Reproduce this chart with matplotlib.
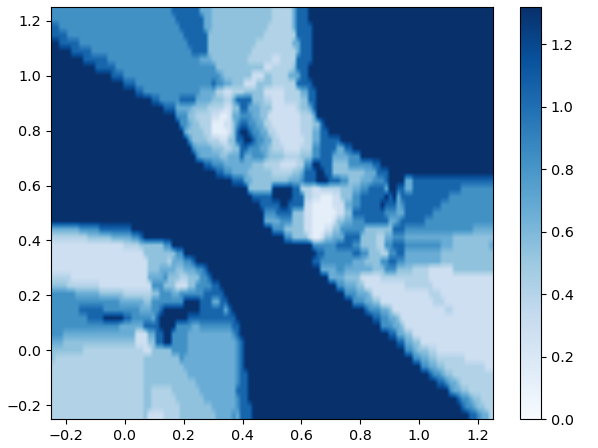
import numpy as np
import matplotlib
matplotlib.use('Agg')
import matplotlib.pyplot as plt

# value of each shade
levels = {'N': 1.32, 'B': 1.05, 'M': 0.83, 'L': 0.67, 'S': 0.54, 'P': 0.41, 'C': 0.28, 'W': 0.12}

# heatmap rows from top to bottom, run length coded: shade + last column of the run
n_cols = 110
rows = [
    "M30 B37 L40 S55 P60 L61 B64 N110",
    "M31 B38 L40 S55 P60 L61 B64 N110",
    "B2 M32 B38 L40 S54 P60 L61 B65 N110",
    "B4 M33 B39 S53 P61 B65 N110",
    "N2 B7 M34 B39 S51 P60 L62 B65 N110",
    "N5 B10 M35 B39 S50 P61 L62 B65 N110",
    "N8 B14 M37 L40 S49 P55 C57 P61 B65 N110",
    "N11 B16 M41 S53 C55 P60 S61 B64 N110",
    "N15 B18 M42 L43 S50 C53 S55 P59 L62 B64 N110",
    "N18 B21 M40 B41 M43 L45 S48 C51 S55 P61 B65 N110",
    "N21 B23 M37 L41 P43 C45 P48 S53 C58 P62 L64 B66 N110",
    "N25 B27 M32 B36 L40 S43 P45 L46 B50 S53 P55 C58 P62 S64 B66 N110",
    "N28 B31 L35 S39 P43 C45 S47 B49 L52 S55 C61 P62 S64 L65 B66 N110",
    "N31 M34 S36 P40 C42 W44 C45 L47 M50 L52 S54 C62 P65 L66 N110",
    "N32 M34 L35 S37 P40 W43 C45 S46 M47 B49 M51 L53 P55 C62 P65 S67 B68 N110",
    "N33 L34 S38 P40 W44 C45 S46 B47 N49 B50 M52 L54 P56 C62 P65 L67 B69 N110",
    "N34 M35 S39 P42 C44 S46 B48 N50 B51 M53 L55 P57 C63 P65 L67 B72 N110",
    "N35 M36 L40 S43 P45 S47 B49 M52 L54 S55 P58 C62 P65 M67 B71 L73 B75 N110",
    "N36 M37 L42 S44 L47 B48 L50 M53 L54 S58 P62 S65 M67 B70 L74 M77 N110",
    "N38 B40 M43 L50 S53 P57 C61 P63 M65 N67 B70 S74 M80 B82 N110",
    "N41 B43 M45 L49 S55 P60 S62 L63 B66 N68 B70 S78 L81 B84 N110",
    "N45 B48 L50 S59 L62 M63 B66 N69 B72 M74 S77 L80 M83 B84 N88 L90 B110",
    "N49 S55 N60 B62 P65 C67 P72 S75 L77 M79 B83 L84 N86 B88 L90 B102 M110",
    "N50 B55 N60 B63 P65 C67 W70 C72 S75 M77 B83 N84 B85 N86 L87 B99 M110",
    "N52 B57 N59 B63 C65 W70 C73 L75 M77 B82 N83 B86 L87 M88 B97 M110",
    "N53 M56 B60 S63 C65 W71 C73 S75 B83 M86 L88 B95 M110",
    "N53 L57 M60 S63 C65 W70 C71 S73 L75 M78 B84 L86 M87 B93 M110",
    "L7 M12 B20 N55 M58 S63 C65 W68 C70 S72 M78 S85 B88 M105 L110",
    "P9 S15 L20 M22 B23 N58 M60 S64 C65 W67 C68 S70 L73 B77 S81 P83 L85 M88 L100 S110",
    "C18 P22 S28 M30 N65 M71 B75 M77 S81 P83 M85 B88 M97 L100 S109 L110",
    "C23 S31 M33 N66 B68 M75 B77 M79 S82 P84 M86 B88 L97 S110",
    "C24 S29 P30 L33 M35 B36 N65 B67 M75 L78 S82 M84 B86 M88 L97 S110",
    "C24 S27 L31 S33 L36 M38 B39 N67 L71 M73 L80 S83 M86 S90 P94 C100 S110",
    "P5 C24 L28 M29 S32 P34 S37 M39 B40 N69 L73 S77 C82 P94 C110",
    "S4 P12 C25 M28 S31 C34 S36 M40 B42 N71 M73 L76 S78 C88 P95 C110",
    "M6 L12 S18 P25 S27 M30 L32 M38 B43 N73 M76 L79 S80 C94 P97 C110",
    "M17 L23 S25 M33 N37 B40 L42 B44 N75 M78 L80 S82 C95 P98 C110",
    "M7 B13 M22 L25 M27 B28 N37 B43 L44 B45 N78 B79 M82 L84 S85 C98 P100 C110",
    "M9 B13 N18 B20 M25 L26 B27 N34 B46 N80 B82 M84 L86 S87 C110",
    "M17 L23 B27 N31 M35 L37 M45 B47 N82 M85 L87 S88 C110",
    "M3 L21 C24 L26 B28 N30 M34 L45 M46 B47 N84 B86 L88 S90 C110",
    "L3 S21 C24 S26 B28 N30 M34 L46 M47 B48 N86 B88 L90 S92 C110",
    "S8 P23 C25 S30 M34 L46 M47 B48 N88 M90 L91 S94 P96 C110",
    "S1 P23 S32 M33 L46 M47 B48 N90 M92 L94 S96 P103 C110",
    "P23 S33 L46 M47 B48 N92 M94 L96 S98 P108 C110",
    "P23 S34 L46 M47 B49 N94 B95 M97 L98 S100 P110",
    "P23 S36 L46 M47 B49 N96 B98 M99 L101 S102 P110",
    "P23 S25 P30 S37 L46 B49 N99 M100 L102 S104 P110",
    "P23 S25 P31 S38 L46 M47 B49 N101 B102 M104 L105 S107 P110",
    "P23 S25 P32 S40 L46 M47 B50 N102 B103 M105 L106 S108 P110",
    "P23 S24 C28 P32 S41 L45 M46 L47 B50 N104 B106 M107 L109 P110",
]

x_ticks = [-0.2, 0.0, 0.2, 0.4, 0.6, 0.8, 1.0, 1.2]
y_ticks = [-0.2, 0.0, 0.2, 0.4, 0.6, 0.8, 1.0, 1.2]
cbar_ticks = [0.0, 0.2, 0.4, 0.6, 0.8, 1.0, 1.2]


def decode(row):
    out = np.zeros(n_cols)
    start = 0
    for run in row.split():
        end = int(run[1:])
        if end > start:
            out[start:end] = levels[run[0]]
            start = end
    return out


grid = np.array([decode(r) for r in rows])

plt.rcParams['font.size'] = 10.4
W, H = 598, 448
fig = plt.figure(figsize=(W / 100, H / 100), dpi=100)
ax = fig.add_axes([51 / W, 1 - 419 / H, 442 / W, 412 / H])
cax = fig.add_axes([520 / W, 1 - 419 / H, 21 / W, 412 / H])

im = ax.imshow(grid, cmap='Blues', vmin=0, vmax=1.32, origin='upper', aspect='auto',
               extent=[-0.25, 1.25, -0.25, 1.25], interpolation='bilinear')
ax.set_xticks(x_ticks)
ax.set_yticks(y_ticks)

cb = fig.colorbar(im, cax=cax)
cb.set_ticks(cbar_ticks)

fig.savefig('out.png', dpi=100)
